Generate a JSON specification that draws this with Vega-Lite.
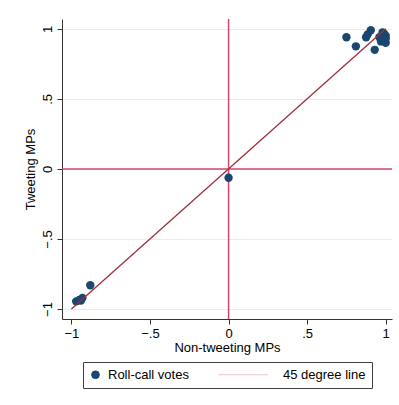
{
  "$schema": "https://vega.github.io/schema/vega-lite/v6.json",
  "width": 330,
  "height": 300,
  "padding": {"left": 24, "top": 18, "right": 7, "bottom": 5},
  "background": "white",
  "config": {
    "view": {"stroke": null},
    "font": "Liberation Sans",
    "axis": {
      "domainColor": "#333333",
      "tickColor": "#333333",
      "tickSize": 5,
      "labelColor": "black",
      "labelFontSize": 13,
      "labelPadding": 3,
      "titleColor": "black",
      "titleFontSize": 13,
      "titleFontWeight": "normal",
      "gridColor": "#e6edef",
      "labelExpr": "replace(format(datum.value, '.1~f'), '0.', '.')"
    },
    "axisX": {"grid": false, "titlePadding": 1},
    "axisY": {"grid": true, "labelAngle": 270, "titlePadding": 4},
    "legend": {
      "layout": {"bottom": {"anchor": "middle"}}
    }
  },
  "datasets": {
    "votes": [
      {"nontweet": 0.75, "tweet": 0.94, "series": "Roll-call votes"},
      {"nontweet": 0.81, "tweet": 0.875, "series": "Roll-call votes"},
      {"nontweet": 0.875, "tweet": 0.94, "series": "Roll-call votes"},
      {"nontweet": 0.885, "tweet": 0.96, "series": "Roll-call votes"},
      {"nontweet": 0.905, "tweet": 0.99, "series": "Roll-call votes"},
      {"nontweet": 0.93, "tweet": 0.85, "series": "Roll-call votes"},
      {"nontweet": 0.96, "tweet": 0.94, "series": "Roll-call votes"},
      {"nontweet": 0.97, "tweet": 0.91, "series": "Roll-call votes"},
      {"nontweet": 0.98, "tweet": 0.975, "series": "Roll-call votes"},
      {"nontweet": 0.99, "tweet": 0.925, "series": "Roll-call votes"},
      {"nontweet": 1.0, "tweet": 0.95, "series": "Roll-call votes"},
      {"nontweet": 1.0, "tweet": 0.9, "series": "Roll-call votes"},
      {"nontweet": 0.99, "tweet": 0.965, "series": "Roll-call votes"},
      {"nontweet": 1.0, "tweet": 0.93, "series": "Roll-call votes"},
      {"nontweet": -0.88, "tweet": -0.83, "series": "Roll-call votes"},
      {"nontweet": -0.97, "tweet": -0.945, "series": "Roll-call votes"},
      {"nontweet": -0.95, "tweet": -0.935, "series": "Roll-call votes"},
      {"nontweet": -0.93, "tweet": -0.92, "series": "Roll-call votes"},
      {"nontweet": -0.94, "tweet": -0.94, "series": "Roll-call votes"},
      {"nontweet": 0.0, "tweet": -0.063, "series": "Roll-call votes"}
    ],
    "diagonal": [
      {"nontweet": -1, "tweet": -1},
      {"nontweet": 1, "tweet": 1}
    ],
    "zeroX": [{"nontweet": 0}],
    "zeroY": [{"tweet": 0}]
  },
  "layer": [
    {
      "data": {"name": "zeroX"},
      "mark": {"type": "rule", "color": "#d2466c", "strokeWidth": 1.5},
      "encoding": {
        "x": {"field": "nontweet", "type": "quantitative", "title": "Non-tweeting MPs", "scale": {"domain": [-1.06, 1.04], "nice": false, "zero": false}, "axis": {"values": [-1, -0.5, 0, 0.5, 1]}}
      }
    },
    {
      "data": {"name": "zeroY"},
      "mark": {"type": "rule", "color": "#d2466c", "strokeWidth": 1.5},
      "encoding": {
        "y": {"field": "tweet", "type": "quantitative", "title": "Tweeting MPs", "scale": {"domain": [-1.071, 1.07], "nice": false, "zero": false}, "axis": {"values": [-1, -0.5, 0, 0.5, 1]}}
      }
    },
    {
      "data": {"name": "votes"},
      "mark": {"type": "point", "filled": true, "opacity": 1, "size": 70, "shape": "circle"},
      "encoding": {
        "x": {"field": "nontweet", "type": "quantitative", "title": "Non-tweeting MPs", "axis": {"values": [-1, -0.5, 0, 0.5, 1]}},
        "y": {"field": "tweet", "type": "quantitative", "title": "Tweeting MPs", "axis": {"values": [-1, -0.5, 0, 0.5, 1]}},
        "color": {
          "field": "series",
          "type": "nominal",
          "scale": {"domain": ["Roll-call votes", "45 degree line"], "range": ["#1a476f", "#ecc4cc"]},
          "legend": {
            "title": null,
            "orient": "bottom",
            "direction": "horizontal",
            "strokeColor": "#404040",
            "padding": 6,
            "columnPadding": 27,
            "offset": 8,
            "labelFontSize": 13,
            "labelColor": "black",
            "labelOffset": 6,
            "symbolSize": 60,
            "symbolType": {"expr": "datum.value === '45 degree line' ? 'M-13.5,0H-0.6' : 'circle'"},
            "symbolStrokeColor": {"expr": "datum.value === '45 degree line' ? '#ecc4cc' : '#1a476f'"},
            "symbolStrokeWidth": 1
          }
        }
      }
    },
    {
      "data": {"name": "diagonal"},
      "mark": {"type": "line", "strokeWidth": 1.3, "color": "#9e2f3c"},
      "encoding": {
        "x": {"field": "nontweet", "type": "quantitative", "title": "Non-tweeting MPs", "axis": {"values": [-1, -0.5, 0, 0.5, 1]}},
        "y": {"field": "tweet", "type": "quantitative", "title": "Tweeting MPs", "axis": {"values": [-1, -0.5, 0, 0.5, 1]}}
      }
    }
  ]
}
